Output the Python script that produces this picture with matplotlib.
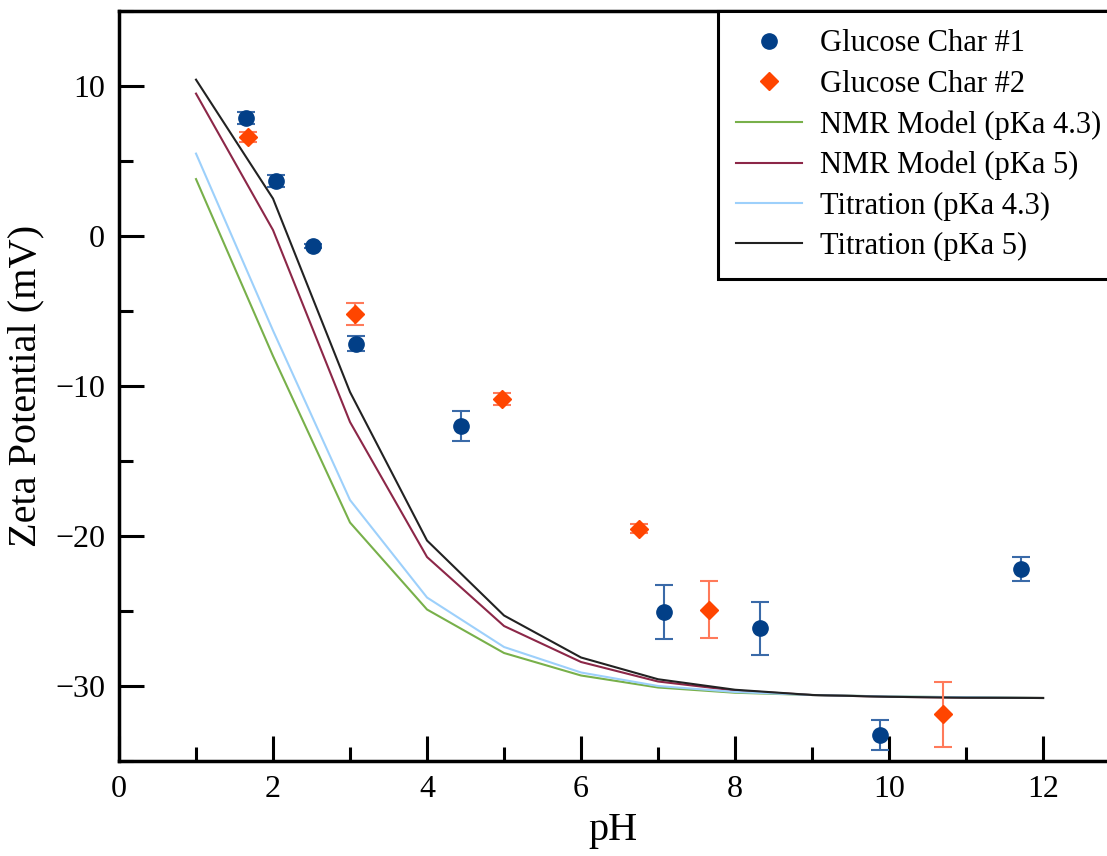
import matplotlib
matplotlib.use("Agg")
import matplotlib.pyplot as plt
from matplotlib.ticker import MultipleLocator
import numpy as np

plt.rcParams['font.family'] = ['Liberation Serif', 'DejaVu Serif']
plt.rcParams['mathtext.fontset'] = 'stix'

# measured data
ph_char1 = [1.65, 2.04, 2.52, 3.08, 4.44, 7.08, 8.32, 9.88, 11.71]
zeta_char1 = [7.85, 3.65, -0.67, -7.17, -12.67, -25.08, -26.15, -33.3, -22.2]
err_char1 = [0.4, 0.4, 0.15, 0.5, 0.98, 1.8, 1.75, 1.0, 0.82]

ph_char2 = [1.67, 3.07, 4.98, 6.75, 7.66, 10.70]
zeta_char2 = [6.6, -5.22, -10.84, -19.5, -24.9, -31.9]
err_char2 = [0.35, 0.73, 0.4, 0.28, 1.9, 2.14]

# model curves
ph_model = [1, 2, 3, 4, 5, 6, 7, 8, 9, 10, 11, 12]
nmr_43 = [3.8, -8.0, -19.1, -24.9, -27.8, -29.3, -30.1, -30.45, -30.6, -30.7, -30.75, -30.8]
nmr_5 = [9.5, 0.4, -12.4, -21.4, -26.0, -28.4, -29.7, -30.3, -30.6, -30.72, -30.78, -30.8]
tit_43 = [5.5, -6.3, -17.6, -24.1, -27.4, -29.1, -30.0, -30.4, -30.6, -30.7, -30.75, -30.8]
tit_5 = [10.43, 2.5, -10.4, -20.3, -25.3, -28.1, -29.55, -30.25, -30.6, -30.72, -30.78, -30.8]

fig = plt.figure(figsize=(11.07, 8.56), dpi=100)
ax = fig.add_axes([0.1075, 0.111, 0.8925, 0.876])

ax.plot(ph_model, nmr_43, color='#78b04a', lw=1.5, label='NMR Model (pKa 4.3)')
ax.plot(ph_model, nmr_5, color='#8c2748', lw=1.5, label='NMR Model (pKa 5)')
ax.plot(ph_model, tit_43, color='#9dd0fb', lw=1.5, label='Titration (pKa 4.3)')
ax.plot(ph_model, tit_5, color='#222222', lw=1.5, label='Titration (pKa 5)')

ax.errorbar(ph_char1, zeta_char1, yerr=err_char1, fmt='none', ecolor='#3a6aa8',
            elinewidth=1.5, capsize=6.5, capthick=1.5)
ax.errorbar(ph_char2, zeta_char2, yerr=err_char2, fmt='none', ecolor='#ff7a5a',
            elinewidth=1.5, capsize=6.5, capthick=1.5)
h1, = ax.plot(ph_char1, zeta_char1, 'o', color='#023f87', ms=11, ls='none',
              label='Glucose Char #1')
h2, = ax.plot(ph_char2, zeta_char2, 'D', color='#ff4500', ms=9, ls='none',
              label='Glucose Char #2')

ax.set_xlim(0, 12.83)
ax.set_ylim(-35, 15)
ax.xaxis.set_major_locator(MultipleLocator(2))
ax.xaxis.set_minor_locator(MultipleLocator(1))
ax.yaxis.set_major_locator(MultipleLocator(10))
ax.yaxis.set_minor_locator(MultipleLocator(5))
ax.tick_params(which='major', direction='in', length=18, width=2.2, labelsize=23, pad=10)
ax.tick_params(which='minor', direction='in', length=10, width=2.2)
ax.tick_params(top=False, right=False)
ax.spines['right'].set_visible(False)
for s in ['left', 'bottom', 'top']:
    ax.spines[s].set_linewidth(2.5)

ax.set_xlabel('pH', fontsize=29, labelpad=6)
ax.set_ylabel('Zeta Potential (mV)', fontsize=29, labelpad=8)

handles, labels = ax.get_legend_handles_labels()
order = [4, 5, 0, 1, 2, 3]
leg = ax.legend([handles[i] for i in order], [labels[i] for i in order],
                loc='upper left', bbox_to_anchor=(0.606, 1.0), borderaxespad=0,
                fontsize=22, frameon=True, fancybox=False, framealpha=1,
                edgecolor='black', handlelength=2.15, handletextpad=0.6,
                labelspacing=0.37, borderpad=0.6)
leg.get_frame().set_linewidth(2.2)

fig.savefig('out.png', dpi=100)
